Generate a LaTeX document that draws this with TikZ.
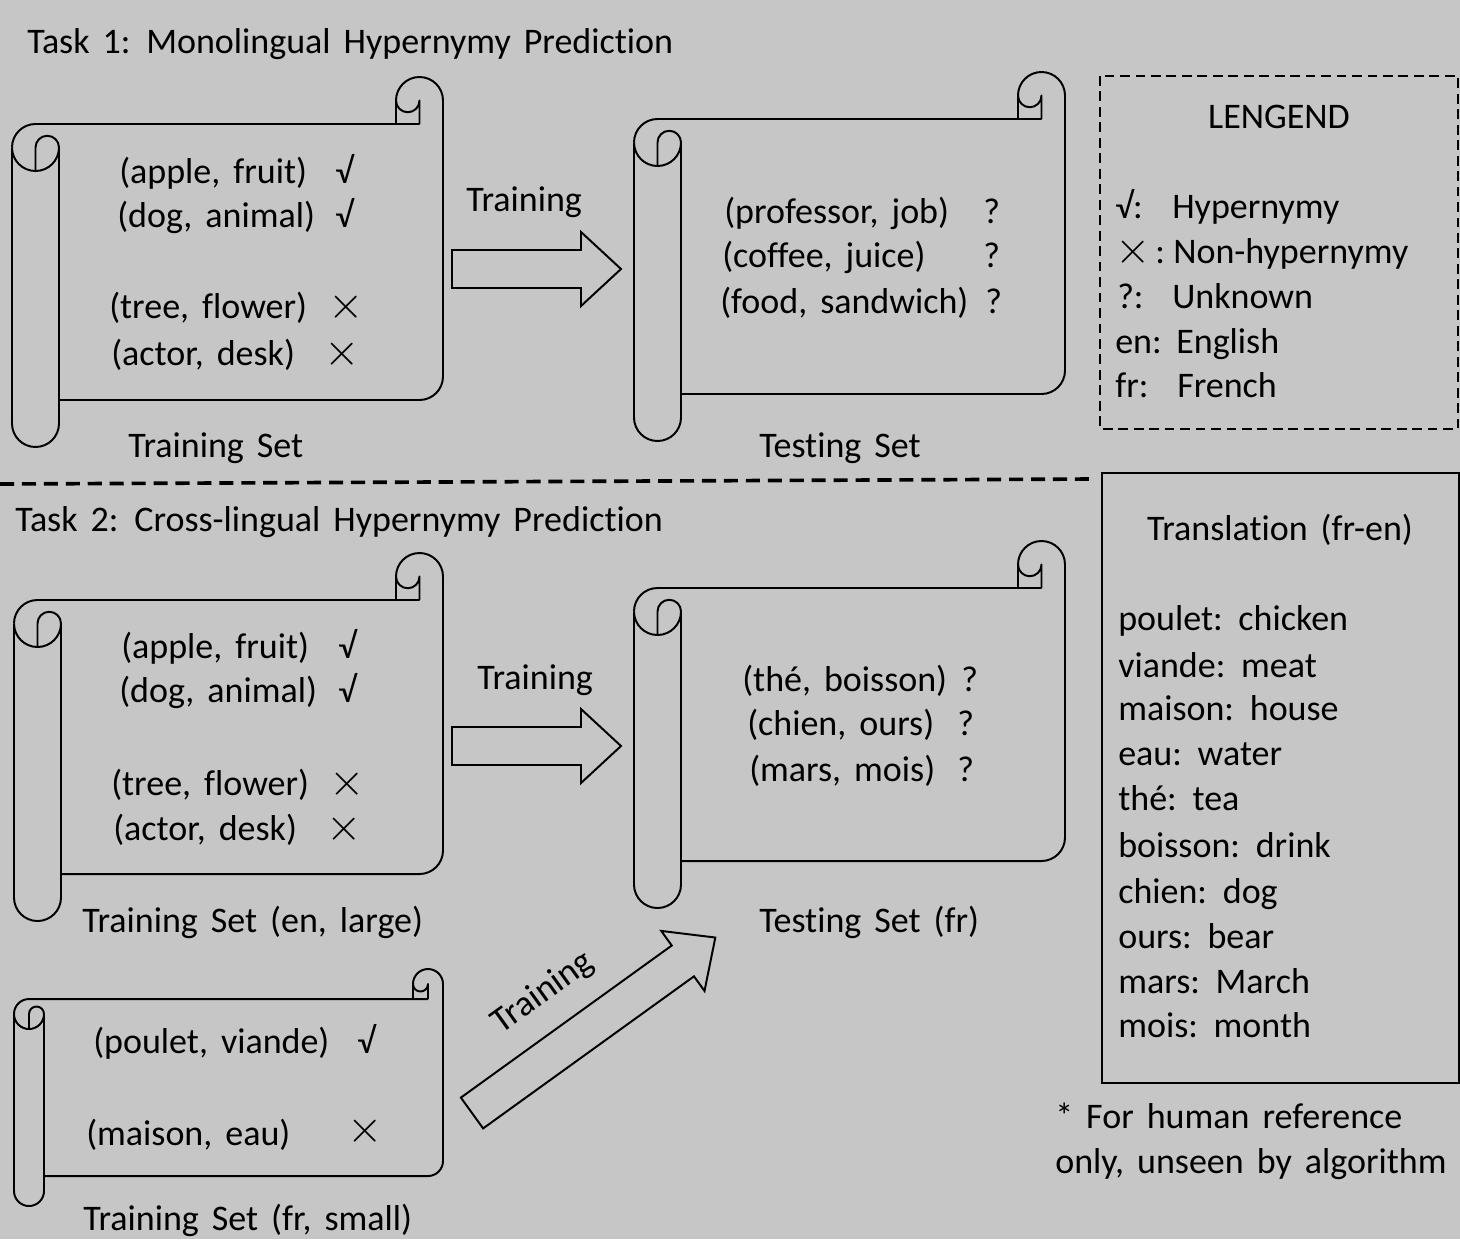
\documentclass[tikz,border=0pt]{standalone}
\usepackage{fontspec}
\setmainfont[WordSpace=1.6,Ligatures=NoCommon]{Carlito}
\usetikzlibrary{positioning}
\definecolor{bggray}{RGB}{197,198,197}

% scroll: left, top, right, bottom, curl radius (all in px)
\newcommand{\drawscroll}[5]{%
  \draw[scrollline] (#1,{#2+3*#5}) arc[start angle=180,end angle=270,radius=#5]
    -- ({#3-#5},{#2+2*#5});
  \draw[scrollline] ({#3-2*#5},{#2+2*#5}) -- ({#3-2*#5},{#2+#5})
    arc[start angle=180,end angle=360,radius=#5] -- (#3,{#4-3*#5})
    arc[start angle=0,end angle=90,radius=#5] -- ({#1+2*#5},{#4-2*#5});
  \draw[scrollline] ({#3-2*#5},{#2+#5}) arc[start angle=180,end angle=0,radius=#5/2]
    -- ({#3-#5},{#2+2*#5});
  \draw[scrollline] (#1,{#2+3*#5}) -- (#1,{#4-#5})
    arc[start angle=180,end angle=0,radius=#5] -- ({#1+2*#5},{#2+3*#5})
    arc[start angle=0,end angle=-180,radius=#5/2] -- ({#1+#5},{#2+4*#5});
  \draw[scrollline] (#1,{#2+3*#5}) arc[start angle=180,end angle=0,radius=#5];
}
% hollow block arrow: tail x, tail y, angle, length
\newcommand{\blockarrow}[4]{%
  \draw[arrowline,shift={(#1,#2)},rotate=#3] (0,-19) -- ({#4-40},-19) -- ({#4-40},-37)
    -- (#4,0) -- ({#4-40},37) -- ({#4-40},19) -- (0,19) -- cycle;
}
\newcommand{\mkyes}{√}
\newcommand{\mkno}{\scalebox{1.3}{$\times$}}

\begin{document}
\begin{tikzpicture}[x=0.025cm,y=-0.025cm,font=\fontsize{25.6}{32}\selectfont,
  txt/.style={anchor=base west,inner sep=0pt},
  ctxt/.style={anchor=base,inner sep=0pt},
  xmark/.style={inner sep=0pt},
  scrollline/.style={line width=1.4pt,line join=round},
  arrowline/.style={line width=1.4pt,line join=miter},
  sepline/.style={line width=2.6pt,dash pattern=on 10pt off 5.6pt},
  legendbox/.style={line width=1pt,dash pattern=on 7pt off 4pt},
  transbox/.style={line width=1.3pt}]
  \useasboundingbox (0,0) rectangle (1460,1239);
  \fill[bggray] (0,0) rectangle (1460,1239);

  % Task 1
  \node[txt] (task1) at (27,53) {Task 1: Monolingual Hypernymy Prediction};
  \drawscroll{12}{77}{443}{447}{23.5}
  \node[txt] (p1) at (119,183) {(apple, fruit)};
  \node[txt] (p2) at (117,227) {(dog, animal)};
  \node[txt] (p3) at (109,318) {(tree, flower)};
  \node[txt] (p4) at (111,365) {(actor, desk)};
  \node[txt] (m1) at (335,183) {\mkyes};
  \node[txt] (m2) at (335,227) {\mkyes};
  \node[xmark] (m3) at (346.5,307.5) {\mkno};
  \node[xmark] (m4) at (342,354) {\mkno};
  \node[txt] (trainset) at (128,457) {Training Set};

  \blockarrow{452}{269}{0}{169}
  \node[txt] (train1) at (466,211) {Training};

  \drawscroll{634}{72}{1065}{441}{23.5}
  \node[txt] (q1) at (724,223) {(professor, job)};
  \node[txt] (q2) at (722,267) {(coffee, juice)};
  \node[txt] (q3) at (720,313) {(food, sandwich)};
  \node[txt] (u1) at (983,223) {?};
  \node[txt] (u2) at (983,267) {?};
  \node[txt] (u3) at (985,313) {?};
  \node[txt] (testset) at (759,457) {Testing Set};

  % legend
  \draw[legendbox] (1100,76) rectangle (1458,429);
  \node[ctxt] (legend) at (1279,128) {LENGEND};
  \node[txt] (l1) at (1115,218) {\mkyes:};
  \node[txt] (l1t) at (1172,218) {Hypernymy};
  \node[xmark] (l2) at (1133,252) {\mkno};
  \node[txt] (l2c) at (1155,263) {:};
  \node[txt] (l2t) at (1173,263) {Non-hypernymy};
  \node[txt] (l3) at (1117,308) {?:};
  \node[txt] (l3t) at (1172,308) {Unknown};
  \node[txt] (l4) at (1115,353) {en:};
  \node[txt] (l4t) at (1176,353) {English};
  \node[txt] (l5) at (1115,397) {fr:};
  \node[txt] (l5t) at (1177,397) {French};

  \coordinate (sepL) at (0,484);
  \coordinate (sepR) at (1095,479);
  \draw[sepline] (sepL) -- (sepR);

  % Task 2
  \node[txt] (task2) at (15,531) {Task 2: Cross-lingual Hypernymy Prediction};
  \drawscroll{14}{553}{443}{921}{23.5}
  \node[txt] (r1) at (121,658) {(apple, fruit)};
  \node[txt] (r2) at (119,702) {(dog, animal)};
  \node[txt] (r3) at (111,795) {(tree, flower)};
  \node[txt] (r4) at (113,840) {(actor, desk)};
  \node[txt] (n1) at (338,658) {\mkyes};
  \node[txt] (n2) at (338,702) {\mkyes};
  \node[xmark] (n3) at (347.5,784) {\mkno};
  \node[xmark] (n4) at (344.5,829) {\mkno};
  \node[txt] (trainen) at (82,932) {Training Set (en, large)};

  \blockarrow{452}{746}{0}{169}
  \node[txt] (train2) at (477,689) {Training};

  \drawscroll{634}{541}{1065}{908}{23.5}
  \node[txt] (s1) at (742,691) {(thé, boisson)};
  \node[txt] (s2) at (747,735) {(chien, ours)};
  \node[txt] (s3) at (749,781) {(mars, mois)};
  \node[txt] (v1) at (961,691) {?};
  \node[txt] (v2) at (957,735) {?};
  \node[txt] (v3) at (957,781) {?};
  \node[txt] (testfr) at (759,932) {Testing Set (fr)};

  \drawscroll{14}{969}{443}{1206}{15}
  \node[txt] (f1) at (93,1053) {(poulet, viande)};
  \node[txt] (f2) at (86,1145) {(maison, eau)};
  \node[txt] (k1) at (357,1053) {\mkyes};
  \node[xmark] (k2) at (365,1131.5) {\mkno};
  \node[txt] (trainfr) at (83,1230) {Training Set (fr, small)};

  \blockarrow{472}{1113}{35.8}{300}
  \node[rotate=35.8] (train3) at (543,993) {Training};

  % translation
  \draw[transbox] (1102,473) rectangle (1459,1083);
  \node[ctxt] (trans) at (1280,540) {Translation (fr-en)};
  \node[txt] (w1) at (1118,630) {poulet: chicken};
  \node[txt] (w2) at (1118,677) {viande: meat};
  \node[txt] (w3) at (1118,720) {maison: house};
  \node[txt] (w4) at (1118,765) {eau: water};
  \node[txt] (w5) at (1118,810) {thé: tea};
  \node[txt] (w6) at (1118,857) {boisson: drink};
  \node[txt] (w7) at (1118,903) {chien: dog};
  \node[txt] (w8) at (1118,948) {ours: bear};
  \node[txt] (w9) at (1118,993) {mars: March};
  \node[txt] (w10) at (1118,1037) {mois: month};
  \node[txt] (note1) at (1055,1128) {* For human reference};
  \node[txt] (note2) at (1055,1173) {only, unseen by algorithm};
\end{tikzpicture}
\end{document}
